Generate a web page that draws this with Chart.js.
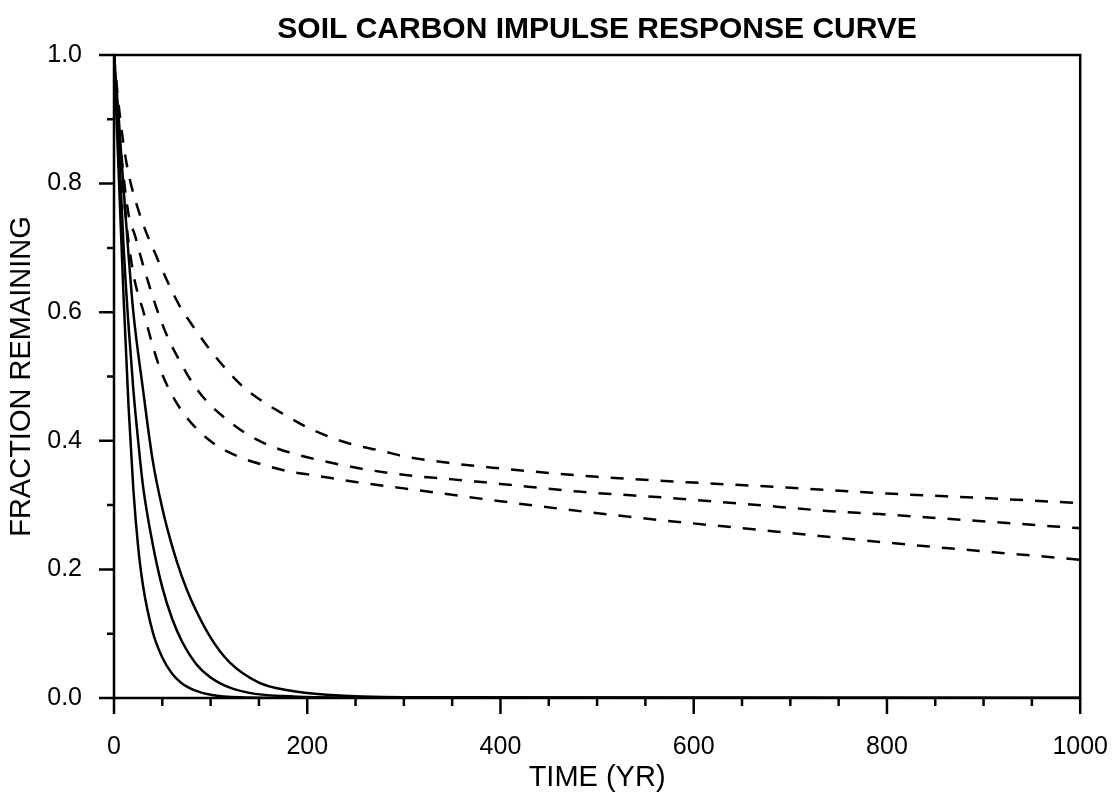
<!DOCTYPE html>
<html>
<head>
<meta charset="utf-8">
<script src="https://cdn.jsdelivr.net/npm/chart.js@4.4.0/dist/chart.umd.min.js"></script>
<style>
  html, body { margin: 0; padding: 0; background: #fff; }
  #wrap { width: 1116px; height: 796px; }
</style>
</head>
<body>
<div id="wrap"><canvas id="soilChart" width="1116" height="796"></canvas></div>
<script>
// Courbes pleines (décroissance rapide) : années et fraction restante
const solidFastYears = [0, 5, 10, 15, 20, 25, 30, 40, 50, 60, 70, 85, 100, 130, 200, 1000];
const solidFastVals  = [1, 0.81, 0.62, 0.455, 0.325, 0.235, 0.175, 0.103, 0.063, 0.038, 0.023, 0.011, 0.005, 0.001, 0, 0];

const solidMidYears = [0, 5, 10, 15, 20, 25, 30, 40, 50, 60, 70, 85, 100, 120, 140, 175, 250, 1000];
const solidMidVals  = [1, 0.86, 0.70, 0.58, 0.48, 0.40, 0.33, 0.24, 0.172, 0.124, 0.089, 0.053, 0.032, 0.016, 0.008, 0.003, 0.0005, 0];

const solidSlowYears = [0, 5, 10, 15, 20, 30, 40, 50, 60, 70, 80, 100, 120, 150, 180, 220, 300, 1000];
const solidSlowVals  = [1, 0.90, 0.79, 0.69, 0.60, 0.48, 0.37, 0.295, 0.237, 0.19, 0.152, 0.094, 0.055, 0.024, 0.012, 0.005, 0.001, 0];

// Courbes en tirets (pool lent)
const dashLowYears = [0, 5, 10, 15, 18, 22, 31, 38, 46, 56, 69, 86, 106, 131, 156, 182, 204, 250, 300, 350, 400, 491, 570, 651, 730, 808, 1000];
const dashLowVals  = [1, 0.87, 0.78, 0.71, 0.678, 0.645, 0.598, 0.559, 0.519, 0.483, 0.449, 0.418, 0.393, 0.374, 0.362, 0.352, 0.347, 0.336, 0.326, 0.316, 0.306, 0.289, 0.276, 0.264, 0.252, 0.2405, 0.215];

const dashMidYears = [0, 5, 14.6, 22, 29, 37, 45, 55, 67, 80, 96, 116, 138, 162, 186, 237, 289, 350, 400, 481, 576, 659, 738, 792, 1000];
const dashMidVals  = [1, 0.89, 0.756, 0.718, 0.679, 0.639, 0.602, 0.563, 0.527, 0.493, 0.4615, 0.434, 0.41, 0.392, 0.38, 0.362, 0.349, 0.34, 0.333, 0.321, 0.311, 0.301, 0.291, 0.286, 0.264];

const dashTopYears = [0, 5, 12.7, 25.6, 44.7, 55.6, 67.9, 81.4, 97.1, 115, 133.6, 154, 177.2, 200, 225, 250, 275, 300, 350, 400, 450, 500, 600, 700, 800, 900, 1000];
const dashTopVals  = [1, 0.92, 0.834, 0.757, 0.684, 0.647, 0.61, 0.579, 0.546, 0.513, 0.484, 0.461, 0.44, 0.421, 0.405, 0.393, 0.385, 0.376, 0.365, 0.357, 0.35, 0.344, 0.335, 0.327, 0.318, 0.311, 0.303];

// Graduations
const xMajorTicks = [0, 200, 400, 600, 800, 1000];
const xMinorTicks = [50, 100, 150, 250, 300, 350, 450, 500, 550, 650, 700, 750, 850, 900, 950];
const yMajorTicks = [0, 0.2, 0.4, 0.6, 0.8, 1.0];
const yMinorTicks = [0.1, 0.3, 0.5, 0.7, 0.9];

const FONT = "'Liberation Sans', Arial, Helvetica, sans-serif";

function toPoints(years, vals) {
  return years.map((t, i) => ({ x: t, y: vals[i] }));
}

function curve(years, vals, dashed) {
  return {
    data: toPoints(years, vals),
    borderColor: '#000',
    borderWidth: 2.5,
    borderDash: dashed ? [13, 12] : [],
    pointRadius: 0,
    fill: false,
    cubicInterpolationMode: 'monotone'
  };
}

// Cadre + graduations majeures/mineures dessinés via les échelles
const frameTicks = {
  id: 'frameTicks',
  afterDatasetsDraw(chart) {
    const { ctx, chartArea: a, scales: { x, y } } = chart;
    ctx.save();
    ctx.strokeStyle = '#000';
    ctx.lineWidth = 2.5;
    ctx.setLineDash([]);
    ctx.strokeRect(a.left, a.top, a.right - a.left, a.bottom - a.top);
    ctx.beginPath();
    xMajorTicks.forEach(v => { const p = x.getPixelForValue(v); ctx.moveTo(p, a.bottom); ctx.lineTo(p, a.bottom + 16); });
    xMinorTicks.forEach(v => { const p = x.getPixelForValue(v); ctx.moveTo(p, a.bottom); ctx.lineTo(p, a.bottom + 8); });
    yMajorTicks.forEach(v => { const p = y.getPixelForValue(v); ctx.moveTo(a.left, p); ctx.lineTo(a.left - 15, p); });
    yMinorTicks.forEach(v => { const p = y.getPixelForValue(v); ctx.moveTo(a.left, p); ctx.lineTo(a.left - 7, p); });
    ctx.stroke();
    ctx.restore();
  }
};

Chart.defaults.color = '#000';

new Chart(document.getElementById('soilChart').getContext('2d'), {
  type: 'line',
  data: {
    datasets: [
      curve(solidFastYears, solidFastVals, false),
      curve(solidMidYears, solidMidVals, false),
      curve(solidSlowYears, solidSlowVals, false),
      curve(dashLowYears, dashLowVals, true),
      curve(dashMidYears, dashMidVals, true),
      curve(dashTopYears, dashTopVals, true)
    ]
  },
  options: {
    responsive: false,
    animation: false,
    devicePixelRatio: 1,
    layout: { padding: 0 },
    plugins: {
      legend: { display: false },
      tooltip: { enabled: false },
      title: {
        display: true,
        fullSize: false,
        text: 'SOIL CARBON IMPULSE RESPONSE CURVE',
        color: '#000',
        font: { family: FONT, size: 30, weight: 'bold' },
        padding: { top: 12, bottom: 7 }
      }
    },
    scales: {
      x: {
        type: 'linear',
        min: 0,
        max: 1000,
        grid: { display: false, drawTicks: true, tickLength: 26 },
        border: { display: false },
        ticks: { stepSize: 200, padding: 8, maxRotation: 0, font: { family: FONT, size: 25 }, callback: v => String(v) },
        title: { display: true, text: 'TIME (YR)', font: { family: FONT, size: 29 }, padding: { top: 0, bottom: 1 } },
        afterFit(s) { s.height = 98; }
      },
      y: {
        min: 0,
        max: 1,
        grid: { display: false, drawTicks: false },
        border: { display: false },
        ticks: { stepSize: 0.2, padding: 32, font: { family: FONT, size: 25 }, callback: v => v.toFixed(1) },
        title: { display: true, text: 'FRACTION REMAINING', font: { family: FONT, size: 29 }, padding: { top: 5, bottom: 0 } },
        afterFit(s) { s.width = 114; }
      }
    }
  },
  plugins: [frameTicks]
});
</script>
</body>
</html>
